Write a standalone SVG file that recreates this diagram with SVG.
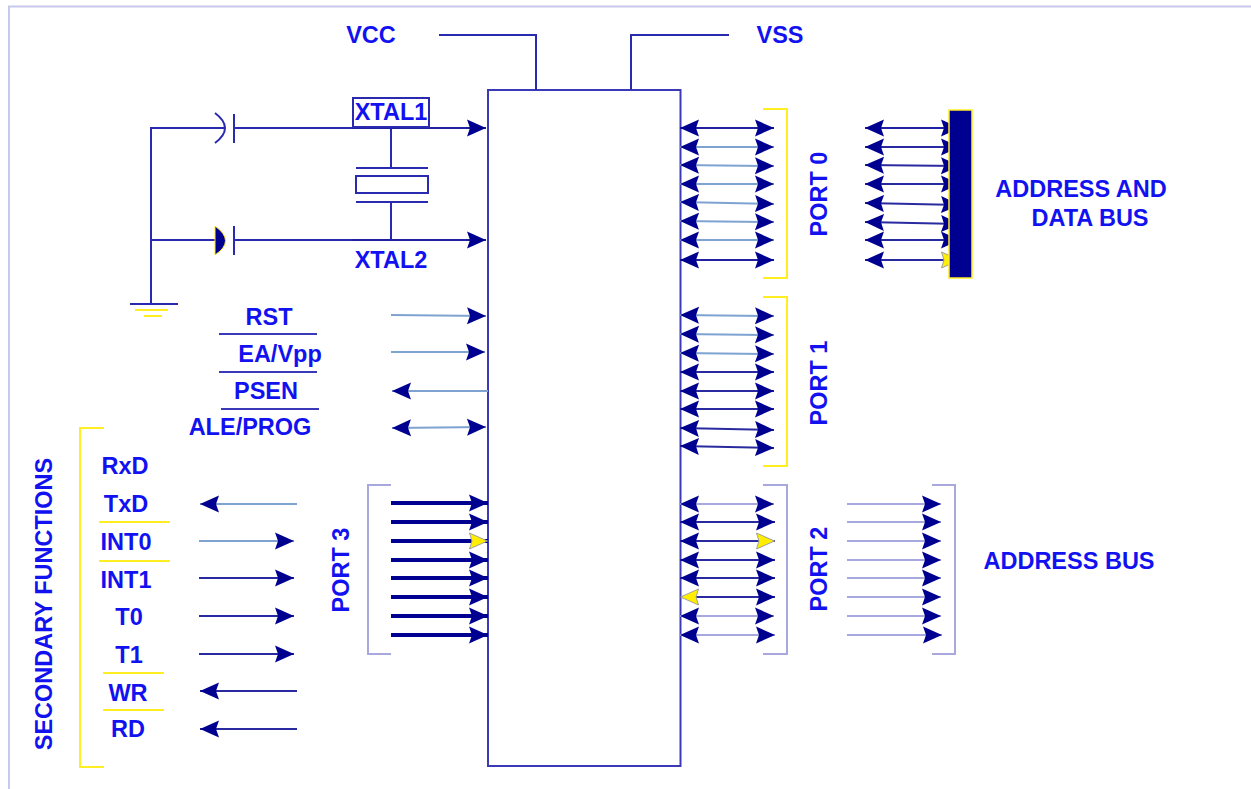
<svg xmlns="http://www.w3.org/2000/svg" width="1251" height="789" viewBox="0 0 1251 789">
<defs>
<marker id="ah" markerUnits="userSpaceOnUse" markerWidth="20" markerHeight="18" refX="19" refY="9" orient="auto-start-reverse"><path d="M0 0.500L19 9L0 17.500L3 9Z" fill="#000090"/></marker>
<marker id="ay" markerUnits="userSpaceOnUse" markerWidth="20" markerHeight="18" refX="19" refY="9" orient="auto-start-reverse"><path d="M0.500 1L18.500 9L0.500 17L3 9Z" fill="#ffee00" stroke="#a0a0a0" stroke-width="1"/></marker>
</defs>
<style>
text{font-family:"Liberation Sans",Arial,sans-serif;font-weight:700;fill:#1212f0;font-size:23.500px}
.w{fill:none;stroke:#2a2ab0;stroke-width:2}
.m{fill:none;stroke:#2020a0;stroke-width:2;marker-end:url(#ah)}
.b{marker-start:url(#ah)}
.s{stroke:#7fa3d0}
.d{stroke:#2a2aa0}
.p{stroke:#a8a8e0}
.t{stroke:#000090;stroke-width:4}
.y{fill:none;stroke:#ffee22;stroke-width:2}
.v{fill:none;stroke:#a8a8dd;stroke-width:2}
</style>
<path d="M9 789V6.500H1251" fill="none" stroke="#c8c8ee" stroke-width="2"/>
<g id="chip"><rect x="488" y="90" width="192.500" height="676" fill="#fff" stroke="#3a3ab8" stroke-width="2"/></g>
<g id="connectors">
<path class="w" d="M439 35H536V90M729 35H631V90"/>
<path class="w" d="M151 304V128H224M151 240H216M233 128H352M391 128V168M391 202V240M233 240H352"/>
<path class="m" d="M352 128H486"/><path class="m" d="M352 240H486"/>
<path class="w" d="M130 304H178"/>
<path d="M135 310H168" stroke="#ffee22" stroke-width="2"/><path d="M144 316H162" stroke="#ffee22" stroke-width="2"/>
<path class="m s" d="M391 315L486 316"/><path class="m s" d="M391 352H485"/><path class="m s" d="M488 391H392"/><path class="m s b" d="M392 428L486 427"/>
<g id="port0">
<path class="m b" d="M680 128H774"/><path class="m s b" d="M680 147H774"/><path class="m s b" d="M680 165L774 166"/><path class="m s b" d="M680 184H774"/><path class="m s b" d="M680 202L774 204"/><path class="m s b" d="M680 221L774 222"/><path class="m s b" d="M680 240H774"/><path class="m b" d="M680 260H774"/>
<path class="y" d="M763 109H787V278H763"/>
</g>
<g id="bus0">
<path class="m b" d="M865 128H960"/><path class="m d b" d="M865 147H960"/><path class="m d b" d="M865 165L960 166"/><path class="m d b" d="M865 184H960"/><path class="m d b" d="M865 203L960 205"/><path class="m d b" d="M865 222L960 224"/><path class="m d b" d="M865 240H960"/>
<path class="m d b" style="marker-end:url(#ay)" d="M865 260H960"/>
<rect x="949" y="110" width="23" height="168" fill="#000090" stroke="#ffee22" stroke-width="1.500"/>
</g>
<g id="port1">
<path class="m s b" d="M680 315L774 316"/><path class="m s b" d="M680 334L774 335"/><path class="m s b" d="M680 353L774 354"/><path class="m d b" d="M680 372H774"/><path class="m d b" d="M680 391H774"/><path class="m d b" d="M680 409H774"/><path class="m d b" d="M680 428L774 430"/><path class="m d b" d="M680 446L774 448"/>
<path class="y" d="M763 297H787V466H763"/>
</g>
<g id="port2">
<path class="m p b" d="M680 504H774"/><path class="m d b" d="M680 522H775"/>
<path class="m d b" style="marker-end:url(#ay)" d="M680 541H775"/>
<path class="m d b" d="M680 560H775"/><path class="m d b" d="M680 578H775"/>
<path class="m d" style="marker-start:url(#ay)" d="M680 597H775"/>
<path class="m p b" d="M680 616H774"/><path class="m p b" d="M680 635H775"/>
<path class="v" d="M763 485H787V654H763"/>
</g>
<g id="addr">
<path class="m p" d="M847 504H941"/><path class="m p" d="M847 522H941"/><path class="m p" d="M847 541H941"/><path class="m p" d="M847 560H941"/><path class="m p" d="M847 578H941"/><path class="m p" d="M847 597H941"/><path class="m p" d="M847 616H941"/><path class="m p" d="M847 635H942"/>
<path class="v" d="M932 485H955V654H932"/>
</g>
<g id="port3">
<path class="m t" d="M391 503H488"/><path class="m t" d="M391 522H488"/><path class="m t" style="marker-end:url(#ay)" d="M391 541H488"/><path class="m t" d="M391 560H488"/><path class="m t" d="M391 578H488"/><path class="m t" d="M391 597H488"/><path class="m t" d="M391 616H488"/><path class="m t" d="M391 635H488"/>
<path class="v" d="M391 485H368V654H391"/>
</g>
<g id="secondary">
<path class="m s" d="M297 504H200"/><path class="m s" d="M199 541H294"/><path class="m d" d="M199 578H294"/><path class="m d" d="M199 616H294"/><path class="m d" d="M199 654H294"/><path class="m d" d="M297 691H200"/><path class="m d" d="M297 729H200"/>
<path class="y" d="M104 428H80V767H104"/>
<path class="y" d="M99 522H170M99 561H170M103 673H164M103 710H164"/>
</g>
<path d="M219 334H317M219 372H317M221 409H319" stroke="#3a3ab8" stroke-width="2" fill="none"/>
</g>
<g id="caps">
<path d="M215 113Q235 128 215 143" fill="none" stroke="#2a2ab0" stroke-width="2"/>
<path d="M234 114V143M234 226V255" class="w"/>
<path d="M215 226Q236 241 215 255Z" fill="#000090" stroke="#ffee22" stroke-width="1"/>
</g>
<g id="crystal">
<path class="w" d="M356 168H428M356 202H428"/>
<rect x="356" y="176" width="72" height="17" fill="#fff" stroke="#2a2ab0" stroke-width="2"/>
</g>
<g id="xtal1"><rect x="353" y="98" width="76" height="29" fill="#fff" stroke="#2a2ab0" stroke-width="2"/><text x="391" y="120" text-anchor="middle">XTAL1</text></g>
<g id="labels">
<text x="371" y="43" text-anchor="middle">VCC</text>
<text x="780" y="43" text-anchor="middle">VSS</text>
<text x="391" y="268" text-anchor="middle">XTAL2</text>
<text x="269" y="325" text-anchor="middle">RST</text>
<text x="280" y="362" text-anchor="middle">EA/Vpp</text>
<text x="266" y="399" text-anchor="middle">PSEN</text>
<text x="250" y="435" text-anchor="middle">ALE/PROG</text>
<text x="125" y="474" text-anchor="middle">RxD</text>
<text x="126" y="512" text-anchor="middle">TxD</text>
<text x="126" y="550" text-anchor="middle">INT0</text>
<text x="126" y="588" text-anchor="middle">INT1</text>
<text x="129" y="625" text-anchor="middle">T0</text>
<text x="129" y="663" text-anchor="middle">T1</text>
<text x="128" y="701" text-anchor="middle">WR</text>
<text x="128" y="737" text-anchor="middle">RD</text>
<text x="1081" y="197" text-anchor="middle">ADDRESS AND</text>
<text x="1090" y="226" text-anchor="middle">DATA BUS</text>
<text x="1069" y="569" text-anchor="middle">ADDRESS BUS</text>
<text transform="translate(827 194) rotate(-90)" text-anchor="middle">PORT 0</text>
<text transform="translate(827 383) rotate(-90)" text-anchor="middle">PORT 1</text>
<text transform="translate(827 569) rotate(-90)" text-anchor="middle">PORT 2</text>
<text transform="translate(349 570) rotate(-90)" text-anchor="middle">PORT 3</text>
<text transform="translate(52 604) rotate(-90)" text-anchor="middle">SECONDARY FUNCTIONS</text>
</g>
</svg>
